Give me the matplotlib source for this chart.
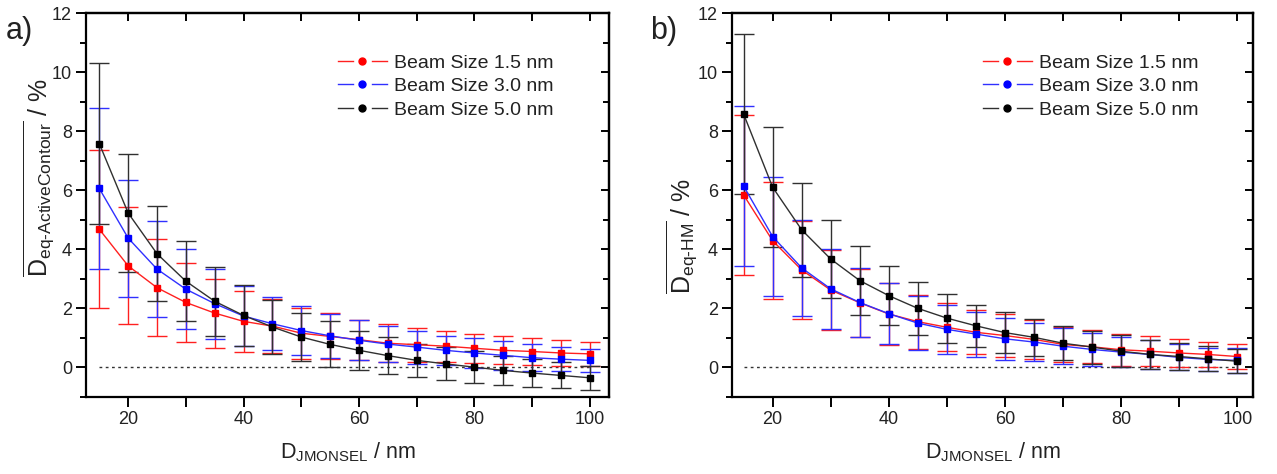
import matplotlib
matplotlib.use("Agg")
import matplotlib.pyplot as plt
from matplotlib.lines import Line2D
from matplotlib.legend_handler import HandlerBase

plt.rcParams['font.family'] = ['Liberation Sans', 'DejaVu Sans']
plt.rcParams['mathtext.fontset'] = 'custom'
plt.rcParams['mathtext.rm'] = 'Liberation Sans'
plt.rcParams['mathtext.it'] = 'Liberation Sans'
plt.rcParams['mathtext.bf'] = 'Liberation Sans:bold'

x = [15, 20, 25, 30, 35, 40, 45, 50, 55, 60, 65, 70, 75, 80, 85, 90, 95, 100]

# Panel a) D_eq-ActiveContour
a_red = [4.68, 3.44, 2.70, 2.20, 1.84, 1.56, 1.40, 1.16, 1.05, 0.94, 0.82, 0.77, 0.72, 0.65, 0.58, 0.54, 0.49, 0.46]
a_red_err = [2.68, 1.98, 1.64, 1.34, 1.17, 1.02, 0.92, 0.86, 0.78, 0.68, 0.64, 0.58, 0.53, 0.49, 0.47, 0.46, 0.44, 0.40]
a_blue = [6.06, 4.38, 3.33, 2.65, 2.16, 1.74, 1.48, 1.25, 1.07, 0.92, 0.79, 0.69, 0.58, 0.49, 0.41, 0.33, 0.28, 0.24]
a_blue_err = [2.72, 1.98, 1.62, 1.36, 1.18, 1.02, 0.90, 0.82, 0.75, 0.68, 0.60, 0.56, 0.50, 0.50, 0.48, 0.45, 0.40, 0.39]
a_black = [7.58, 5.23, 3.85, 2.92, 2.24, 1.76, 1.37, 1.03, 0.78, 0.58, 0.40, 0.24, 0.12, 0.01, -0.10, -0.19, -0.27, -0.35]
a_black_err = [2.72, 2.01, 1.61, 1.36, 1.16, 1.02, 0.90, 0.82, 0.78, 0.67, 0.63, 0.57, 0.56, 0.54, 0.50, 0.48, 0.44, 0.41]

# Panel b) D_eq-HM
b_red = [5.84, 4.29, 3.30, 2.62, 2.19, 1.81, 1.55, 1.36, 1.19, 1.08, 0.95, 0.78, 0.70, 0.60, 0.55, 0.49, 0.44, 0.37]
b_red_err = [2.72, 1.98, 1.66, 1.36, 1.16, 1.04, 0.92, 0.81, 0.74, 0.72, 0.66, 0.60, 0.56, 0.54, 0.50, 0.47, 0.43, 0.41]
b_blue = [6.14, 4.43, 3.37, 2.66, 2.20, 1.82, 1.50, 1.29, 1.13, 0.97, 0.86, 0.72, 0.61, 0.52, 0.44, 0.34, 0.27, 0.24]
b_blue_err = [2.70, 2.02, 1.62, 1.36, 1.16, 1.04, 0.92, 0.82, 0.76, 0.72, 0.64, 0.60, 0.56, 0.52, 0.48, 0.44, 0.40, 0.42]
b_black = [8.58, 6.10, 4.66, 3.67, 2.94, 2.43, 2.00, 1.67, 1.41, 1.18, 1.02, 0.82, 0.69, 0.55, 0.44, 0.37, 0.29, 0.21]
b_black_err = [2.71, 2.03, 1.60, 1.31, 1.18, 0.99, 0.90, 0.83, 0.72, 0.69, 0.62, 0.58, 0.56, 0.55, 0.50, 0.45, 0.42, 0.40]

labels = ['Beam Size 1.5 nm', 'Beam Size 3.0 nm', 'Beam Size 5.0 nm']
colors = ['#ff0000', '#0000ff', '#000000']
line_colors = ['#ff2020', '#3030ff', '#303030']


class GapHandler(HandlerBase):
    def create_artists(self, legend, orig_handle, xdescent, ydescent,
                       width, height, fontsize, trans):
        y = height / 2 - ydescent
        x0 = -xdescent
        x1 = x0 + width
        seg = width * 0.3
        c = orig_handle.get_color()
        mc = orig_handle.get_markerfacecolor()
        l1 = Line2D([x0, x0 + seg], [y, y], color=c, lw=1.0)
        l2 = Line2D([x1 - seg, x1], [y, y], color=c, lw=1.0)
        m = Line2D([(x0 + x1) / 2], [y], marker='o', markersize=5,
                   markerfacecolor=mc, markeredgecolor=mc, linestyle='none')
        for a in (l1, l2, m):
            a.set_transform(trans)
        return [l1, m, l2]


fig = plt.figure(figsize=(12.77, 4.74), dpi=100)
ax_a = fig.add_axes([86/1277, 77/474, 523/1277, 384/474])
ax_b = fig.add_axes([732/1277, 77/474, 521/1277, 384/474])

panels = [
    (ax_a, [(a_red, a_red_err), (a_blue, a_blue_err), (a_black, a_black_err)],
     r'$\overline{\mathrm{D}_{\text{eq-ActiveContour}}}$ / %', (12.7, 103.3),
     (-0.055, 0.57)),
    (ax_b, [(b_red, b_red_err), (b_blue, b_blue_err), (b_black, b_black_err)],
     r'$\overline{\mathrm{D}_{\text{eq-HM}}}$ / %', (13.0, 102.7),
     (-0.062, 0.42)),
]

text_col = '#222222'
for ax, series, ylab, xl, lab_xy in panels:
    ax.plot([x[0], x[-1]], [0, 0], linestyle=(0, (2, 2.5)), color='#333333', lw=1.0, zorder=1)
    for (vals, errs), c, lc in zip(series, colors, line_colors):
        ax.errorbar(x, vals, yerr=errs, color=lc, ecolor=lc, elinewidth=1.0,
                    capsize=7, capthick=1.0, lw=1.0, marker='s', markersize=5,
                    markerfacecolor=c, markeredgecolor=c, zorder=3)
    ax.set_xlim(*xl)
    ax.set_ylim(-1, 12)
    ax.set_xticks([20, 40, 60, 80, 100])
    ax.set_xticks([30, 50, 70, 90], minor=True)
    ax.set_yticks([0, 2, 4, 6, 8, 10, 12])
    ax.set_yticks([-1, 1, 3, 5, 7, 9, 11], minor=True)
    for s in ax.spines.values():
        s.set_linewidth(1.6)
    ax.tick_params(which='major', direction='out', length=7, width=1.4,
                   labelsize=13, labelcolor=text_col, pad=3)
    ax.tick_params(which='minor', direction='out', length=4, width=1.4)
    ax.tick_params(axis='x', which='minor', length=7)
    # mirrored inward ticks on top/right
    sx = ax.secondary_xaxis('top')
    sx.set_xticks([20, 40, 60, 80, 100])
    sx.set_xticks([30, 50, 70, 90], minor=True)
    sx.tick_params(which='both', direction='in', length=6, width=1.4, labeltop=False)
    sy = ax.secondary_yaxis('right')
    sy.set_yticks([0, 2, 4, 6, 8, 10, 12])
    sy.set_yticks([-1, 1, 3, 5, 7, 9, 11], minor=True)
    sy.tick_params(which='major', direction='in', length=6, width=1.4, labelright=False)
    sy.tick_params(which='minor', direction='in', length=4, width=1.4, labelright=False)
    for s in list(sx.spines.values()) + list(sy.spines.values()):
        s.set_linewidth(1.6)

    ax.set_xlabel(r'$\mathrm{D}_{\mathrm{JMONSEL}}$ / nm', fontsize=15.5, color=text_col, labelpad=9)
    ax.set_ylabel(ylab, fontsize=18, color=text_col)
    ax.yaxis.set_label_coords(*lab_xy)

    handles = [Line2D([], [], color=lc, lw=1.0, marker='o', markersize=5,
                      markerfacecolor=c, markeredgecolor=c)
               for c, lc in zip(colors, line_colors)]
    leg = ax.legend(handles, labels, loc='upper left', bbox_to_anchor=(0.482, 0.893),
                    borderaxespad=0, borderpad=0,
                    frameon=False, fontsize=14, handlelength=2.5, handletextpad=0.36,
                    labelspacing=0.3, handler_map={Line2D: GapHandler()})
    for t in leg.get_texts():
        t.set_color(text_col)

fig.text(6/1277, 1 - 31/474, 'a)', fontsize=22, color=text_col, va='center', ha='left')
fig.text(650/1277, 1 - 31/474, 'b)', fontsize=22, color=text_col, va='center', ha='left')

fig.savefig('out.png', dpi=100)
